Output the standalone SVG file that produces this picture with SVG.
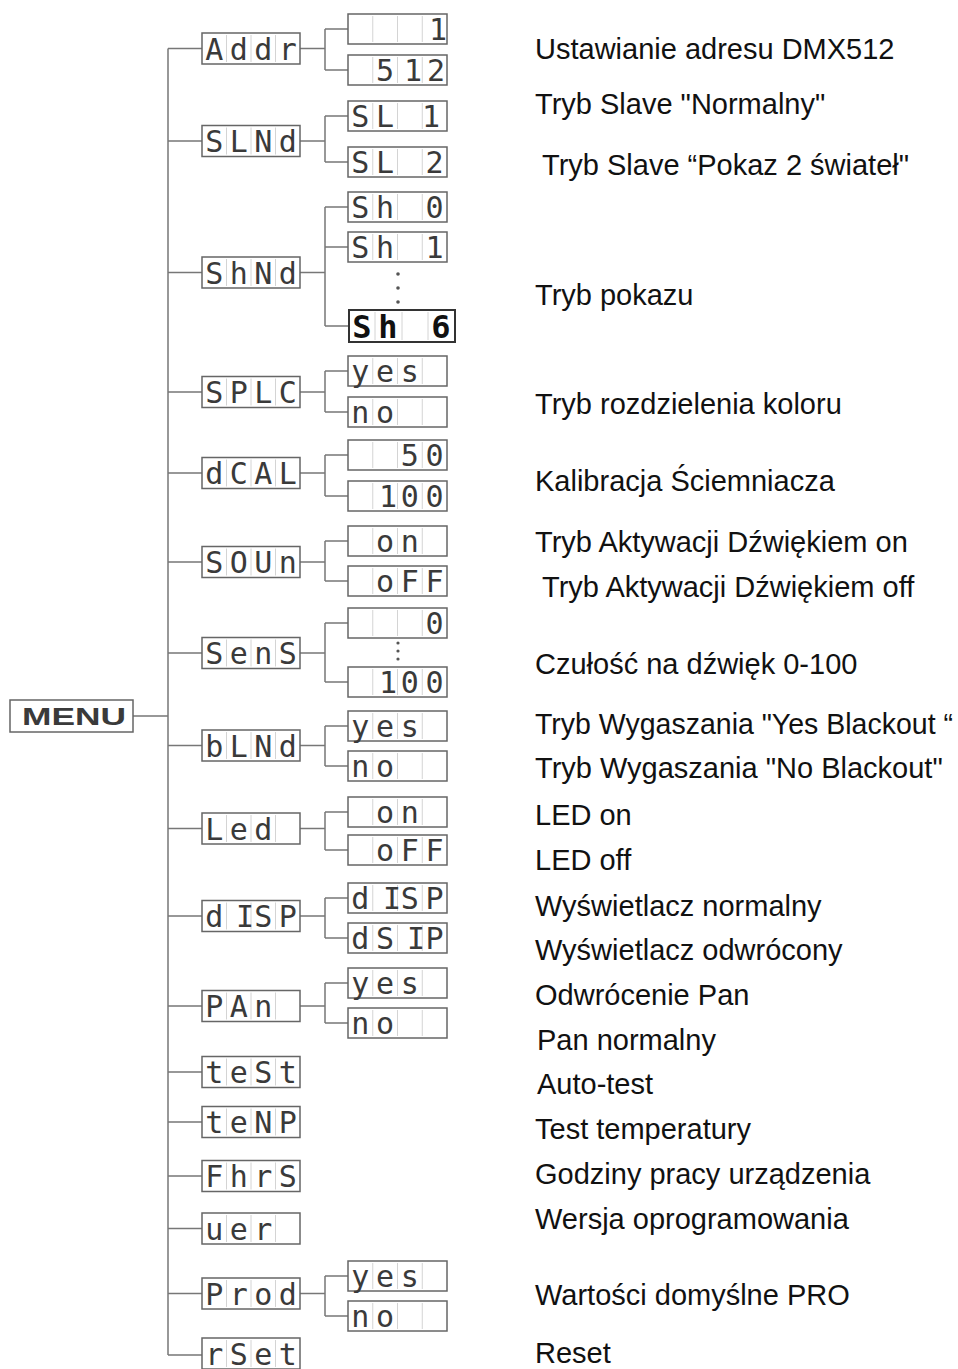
<svg xmlns="http://www.w3.org/2000/svg" xmlns:xlink="http://www.w3.org/1999/xlink" width="958" height="1369" viewBox="0 0 958 1369">
<style>
.bx{fill:#fff;stroke:#666;stroke-width:1.5}
.dv{stroke:#d4d4d4;stroke-width:1}
.ln{fill:none;stroke:#777;stroke-width:1.5}
.seg{font-family:"DejaVu Sans Mono","Liberation Mono",monospace;font-size:30px;fill:#3a3a3a;text-anchor:middle}
.big{font-weight:bold;font-size:32px;fill:#111}
.lbl{font-family:"Liberation Sans",Arial,sans-serif;font-size:29px;fill:#111}
.menu{font-family:"Liberation Sans",Arial,sans-serif;font-size:24px;font-weight:bold;fill:#3a3a3a}
.dot{fill:#555}
</style>
<defs>
<g id="boxM"><rect class="bx" x="0" y="0" width="98" height="31"/><line class="dv" x1="24.5" y1="2" x2="24.5" y2="29"/><line class="dv" x1="49" y1="2" x2="49" y2="29"/><line class="dv" x1="73.5" y1="2" x2="73.5" y2="29"/></g>
<g id="boxS"><rect class="bx" x="0" y="0" width="99" height="30"/><line class="dv" x1="24.75" y1="2" x2="24.75" y2="28"/><line class="dv" x1="49.5" y1="2" x2="49.5" y2="28"/><line class="dv" x1="74.25" y1="2" x2="74.25" y2="28"/></g>
</defs>
<rect width="958" height="1369" fill="#fff"/>

<g id="connectors">
<path class="ln" d="M133 716H168M168 48.5V1355"/>
<path class="ln" d="M168 48.5H202M168 141H202M168 272.5H202M168 392H202M168 473H202M168 562H202M168 653H202M168 745.5H202M168 828.5H202M168 916H202M168 1006H202M168 1072H202M168 1122H202M168 1176H202M168 1228.5H202M168 1293.5H202M168 1355H202"/>
<path class="ln" d="M300 48.5H325M325 29V70M325 29H348M325 70H348"/>
<path class="ln" d="M300 141H325M325 116V162M325 116H348M325 162H348"/>
<path class="ln" d="M300 272.5H325M325 207V326M325 207H348M325 247H348M325 326H349"/>
<path class="ln" d="M300 392H325M325 371V412M325 371H348M325 412H348"/>
<path class="ln" d="M300 473H325M325 455V496M325 455H348M325 496H348"/>
<path class="ln" d="M300 562H325M325 541V581M325 541H348M325 581H348"/>
<path class="ln" d="M300 653H325M325 623V682M325 623H348M325 682H348"/>
<path class="ln" d="M300 745.5H325M325 726V766M325 726H348M325 766H348"/>
<path class="ln" d="M300 828.5H325M325 812V850M325 812H348M325 850H348"/>
<path class="ln" d="M300 916H325M325 898V938M325 898H348M325 938H348"/>
<path class="ln" d="M300 1006H325M325 983V1023M325 983H348M325 1023H348"/>
<path class="ln" d="M300 1293.5H325M325 1276V1316M325 1276H348M325 1316H348"/>
</g>

<g id="menu"><rect class="bx" x="10" y="700" width="123" height="32"/><text class="menu" x="22" y="725" textLength="104" lengthAdjust="spacingAndGlyphs">MENU</text></g>

<g id="addr"><use xlink:href="#boxM" x="202" y="33"/><text class="seg" x="214.25 238.75 263.25 287.75" y="59.5">Addr</text></g>
<g id="addr-1"><use xlink:href="#boxS" x="348" y="14"/><text class="seg" x="438" y="40">1</text></g>
<g id="addr-512"><use xlink:href="#boxS" x="348" y="55"/><text class="seg" x="385.1 413 436" y="81">512</text></g>

<g id="slnd"><use xlink:href="#boxM" x="202" y="125.5"/><text class="seg" x="214.25 238.75 263.25 287.75" y="152">SLNd</text></g>
<g id="sl1"><use xlink:href="#boxS" x="348" y="101"/><text class="seg" x="360.4 385.1 431" y="127">SL1</text></g>
<g id="sl2"><use xlink:href="#boxS" x="348" y="147"/><text class="seg" x="360.4 385.1 434.6" y="173">SL2</text></g>

<g id="shnd"><use xlink:href="#boxM" x="202" y="257"/><text class="seg" x="214.25 238.75 263.25 287.75" y="283.5">ShNd</text></g>
<g id="sh0"><use xlink:href="#boxS" x="348" y="192"/><text class="seg" x="360.4 385.1 434.6" y="218">Sh0</text></g>
<g id="sh1"><use xlink:href="#boxS" x="348" y="232"/><text class="seg" x="360.4 385.1 434.6" y="258">Sh1</text></g>
<g id="dots1"><circle class="dot" cx="398" cy="274" r="1.8"/><circle class="dot" cx="398" cy="288" r="1.8"/><circle class="dot" cx="398" cy="302" r="1.8"/></g>
<g id="sh6"><rect x="349" y="310" width="106" height="32" fill="#fff" stroke="#333" stroke-width="2"/><line class="dv" x1="375" y1="312" x2="375" y2="340"/><line class="dv" x1="402" y1="312" x2="402" y2="340"/><line class="dv" x1="428" y1="312" x2="428" y2="340"/><text class="seg big" x="362 388 441" y="337.5">Sh6</text></g>

<g id="splc"><use xlink:href="#boxM" x="202" y="376.5"/><text class="seg" x="214.25 238.75 263.25 287.75" y="403">SPLC</text></g>
<g id="splc-yes"><use xlink:href="#boxS" x="348" y="356"/><text class="seg" x="360.4 385.1 409.9" y="382">yes</text></g>
<g id="splc-no"><use xlink:href="#boxS" x="348" y="397"/><text class="seg" x="360.4 385.1" y="423">no</text></g>

<g id="dcal"><use xlink:href="#boxM" x="202" y="457.5"/><text class="seg" x="214.25 238.75 263.25 287.75" y="484">dCAL</text></g>
<g id="dcal-50"><use xlink:href="#boxS" x="348" y="440"/><text class="seg" x="409.9 434.6" y="466">50</text></g>
<g id="dcal-100"><use xlink:href="#boxS" x="348" y="481"/><text class="seg" x="388 409.9 434.6" y="507">100</text></g>

<g id="soun"><use xlink:href="#boxM" x="202" y="546.5"/><text class="seg" x="214.25 238.75 263.25 287.75" y="573">SOUn</text></g>
<g id="soun-on"><use xlink:href="#boxS" x="348" y="526"/><text class="seg" x="385.1 409.9" y="552">on</text></g>
<g id="soun-off"><use xlink:href="#boxS" x="348" y="566"/><text class="seg" x="385.1 409.9 434.6" y="592">oFF</text></g>

<g id="sens"><use xlink:href="#boxM" x="202" y="637.5"/><text class="seg" x="214.25 238.75 263.25 287.75" y="664">SenS</text></g>
<g id="sens-0"><use xlink:href="#boxS" x="348" y="608"/><text class="seg" x="434.6" y="634">0</text></g>
<g id="dots2"><circle class="dot" cx="398" cy="643" r="1.6"/><circle class="dot" cx="398" cy="651" r="1.6"/><circle class="dot" cx="398" cy="659" r="1.6"/></g>
<g id="sens-100"><use xlink:href="#boxS" x="348" y="667"/><text class="seg" x="388 409.9 434.6" y="693">100</text></g>

<g id="blnd"><use xlink:href="#boxM" x="202" y="730"/><text class="seg" x="214.25 238.75 263.25 287.75" y="756.5">bLNd</text></g>
<g id="blnd-yes"><use xlink:href="#boxS" x="348" y="711"/><text class="seg" x="360.4 385.1 409.9" y="737">yes</text></g>
<g id="blnd-no"><use xlink:href="#boxS" x="348" y="751"/><text class="seg" x="360.4 385.1" y="777">no</text></g>

<g id="led"><use xlink:href="#boxM" x="202" y="813"/><text class="seg" x="214.25 238.75 263.25" y="839.5">Led</text></g>
<g id="led-on"><use xlink:href="#boxS" x="348" y="797"/><text class="seg" x="385.1 409.9" y="823">on</text></g>
<g id="led-off"><use xlink:href="#boxS" x="348" y="835"/><text class="seg" x="385.1 409.9 434.6" y="861">oFF</text></g>

<g id="disp"><use xlink:href="#boxM" x="202" y="900.5"/><text class="seg" x="214.25 245 263.25 287.75" y="927">dISP</text></g>
<g id="disp-n"><use xlink:href="#boxS" x="348" y="883"/><text class="seg" x="360.4 392 409.9 434.6" y="909">dISP</text></g>
<g id="disp-r"><use xlink:href="#boxS" x="348" y="923"/><text class="seg" x="360.4 385.1 416 434.6" y="949">dSIP</text></g>

<g id="pan"><use xlink:href="#boxM" x="202" y="990.5"/><text class="seg" x="214.25 238.75 263.25" y="1017">PAn</text></g>
<g id="pan-yes"><use xlink:href="#boxS" x="348" y="968"/><text class="seg" x="360.4 385.1 409.9" y="994">yes</text></g>
<g id="pan-no"><use xlink:href="#boxS" x="348" y="1008"/><text class="seg" x="360.4 385.1" y="1034">no</text></g>

<g id="test"><use xlink:href="#boxM" x="202" y="1056.5"/><text class="seg" x="214.25 238.75 263.25 287.75" y="1083">teSt</text></g>
<g id="temp"><use xlink:href="#boxM" x="202" y="1106.5"/><text class="seg" x="214.25 238.75 263.25 287.75" y="1133">teNP</text></g>
<g id="fhrs"><use xlink:href="#boxM" x="202" y="1160.5"/><text class="seg" x="214.25 238.75 263.25 287.75" y="1187">FhrS</text></g>
<g id="ver"><use xlink:href="#boxM" x="202" y="1213"/><text class="seg" x="214.25 238.75 263.25" y="1239.5">uer</text></g>
<g id="prod"><use xlink:href="#boxM" x="202" y="1278"/><text class="seg" x="214.25 238.75 263.25 287.75" y="1304.5">Prod</text></g>
<g id="prod-yes"><use xlink:href="#boxS" x="348" y="1261"/><text class="seg" x="360.4 385.1 409.9" y="1287">yes</text></g>
<g id="prod-no"><use xlink:href="#boxS" x="348" y="1301"/><text class="seg" x="360.4 385.1" y="1327">no</text></g>
<g id="rset"><use xlink:href="#boxM" x="202" y="1338"/><text class="seg" x="214.25 238.75 263.25 287.75" y="1364.5">rSet</text></g>

<g id="labels">
<text class="lbl" x="535" y="59">Ustawianie adresu DMX512</text>
<text class="lbl" x="535" y="114">Tryb Slave "Normalny"</text>
<text class="lbl" x="542" y="175">Tryb Slave “Pokaz 2 świateł"</text>
<text class="lbl" x="535" y="305">Tryb pokazu</text>
<text class="lbl" x="535" y="414">Tryb rozdzielenia koloru</text>
<text class="lbl" x="535" y="491">Kalibracja Ściemniacza</text>
<text class="lbl" x="535" y="552">Tryb Aktywacji Dźwiękiem on</text>
<text class="lbl" x="542" y="597">Tryb Aktywacji Dźwiękiem off</text>
<text class="lbl" x="535" y="674">Czułość na dźwięk 0-100</text>
<text class="lbl" x="535" y="734" textLength="418" lengthAdjust="spacingAndGlyphs">Tryb Wygaszania "Yes Blackout “</text>
<text class="lbl" x="535" y="778">Tryb Wygaszania "No Blackout"</text>
<text class="lbl" x="535" y="825">LED on</text>
<text class="lbl" x="535" y="870">LED off</text>
<text class="lbl" x="535" y="916">Wyświetlacz normalny</text>
<text class="lbl" x="535" y="960">Wyświetlacz odwrócony</text>
<text class="lbl" x="535" y="1005">Odwrócenie Pan</text>
<text class="lbl" x="537" y="1050">Pan normalny</text>
<text class="lbl" x="537" y="1094">Auto-test</text>
<text class="lbl" x="535" y="1139">Test temperatury</text>
<text class="lbl" x="535" y="1184">Godziny pracy urządzenia</text>
<text class="lbl" x="535" y="1229">Wersja oprogramowania</text>
<text class="lbl" x="535" y="1305">Wartości domyślne PRO</text>
<text class="lbl" x="535" y="1363">Reset</text>
</g>
</svg>
